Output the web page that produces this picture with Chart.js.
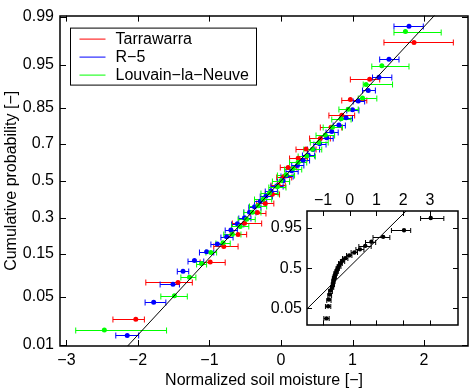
<!DOCTYPE html>
<html>
<head>
<meta charset="utf-8">
<script src="https://cdn.jsdelivr.net/npm/chart.js@4.4.1/dist/chart.umd.min.js"></script>
<style>
  body { margin: 0; background: #fff; }
  #wrap { position: relative; width: 473px; height: 390px; }
  #main { position: absolute; left: 0; top: 0; }
  #inset { position: absolute; left: 262px; top: 190px; }
</style>
</head>
<body>
<div id="wrap">
  <canvas id="main" width="473" height="390"></canvas>
  <canvas id="inset" width="205" height="150"></canvas>
</div>
<script>
// DATA (x = normalized soil moisture, z = normal score)

const probTicks = [0.01, 0.05, 0.15, 0.3, 0.5, 0.7, 0.85, 0.95, 0.99];
const probLabels = ['0.01', '0.05', '0.15', '0.3', '0.5', '0.7', '0.85', '0.95', '0.99'];
const xTicks = [-3, -2, -1, 0, 1, 2];

const insetProbTicks = [0.05, 0.5, 0.95];
const insetProbLabels = ['0.05', '0.5', '0.95'];
const insetXTicks = [-1, 0, 1, 2, 3];

// Tarrawarra
const tarrZ = [-1.96, -1.44, -1.15, -0.93, -0.76, -0.60, -0.45, -0.32, -0.19, -0.06, 0.06, 0.19, 0.32, 0.45, 0.60, 0.76, 0.93, 1.15, 1.44, 1.96];
const tarrX = [-2.03, -1.44, -0.99, -0.80, -0.60, -0.51, -0.33, -0.22, -0.12, -0.04, 0.04, 0.10, 0.24, 0.35, 0.55, 0.70, 0.85, 0.97, 1.24, 1.86];
const tarrLo = [0.32, 0.45, 0.14, 0.14, 0.11, 0.17, 0.10, 0.12, 0.10, 0.10, 0.10, 0.11, 0.12, 0.14, 0.15, 0.15, 0.18, 0.12, 0.27, 0.42];
const tarrHi = [0.12, 0.20, 0.21, 0.20, 0.12, 0.24, 0.12, 0.12, 0.10, 0.10, 0.11, 0.12, 0.13, 0.14, 0.14, 0.15, 0.18, 0.23, 0.14, 0.55];

// R-5
const r5Z = [-2.19, -1.72, -1.465, -1.28, -1.13, -1.006, -0.894, -0.792, -0.697, -0.609, -0.524, -0.444, -0.366, -0.29, -0.217, -0.144, -0.072, 0,
             0.072, 0.144, 0.217, 0.29, 0.366, 0.444, 0.524, 0.609, 0.697, 0.792, 0.894, 1.006, 1.13, 1.28, 1.465, 1.72, 2.19];
const r5X = [-2.15, -1.78, -1.51, -1.37, -1.21, -1.04, -0.89, -0.76, -0.70, -0.61, -0.51, -0.44, -0.37, -0.29, -0.21, -0.14, -0.06, 0.03,
             0.08, 0.15, 0.23, 0.31, 0.38, 0.45, 0.54, 0.64, 0.71, 0.81, 0.91, 1.00, 1.08, 1.22, 1.37, 1.51, 1.79];
const r5Lo = [0.16, 0.12, 0.18, 0.08, 0.09, 0.10, 0.09, 0.08, 0.08, 0.08, 0.08, 0.08, 0.08, 0.08, 0.08, 0.08, 0.08, 0.08,
              0.08, 0.08, 0.08, 0.08, 0.08, 0.08, 0.08, 0.08, 0.08, 0.08, 0.08, 0.08, 0.07, 0.08, 0.09, 0.13, 0.21];
const r5Hi = [0.16, 0.17, 0.09, 0.08, 0.13, 0.10, 0.09, 0.09, 0.09, 0.09, 0.09, 0.09, 0.09, 0.09, 0.09, 0.09, 0.09, 0.09,
              0.09, 0.09, 0.09, 0.09, 0.09, 0.09, 0.09, 0.09, 0.09, 0.09, 0.09, 0.09, 0.09, 0.10, 0.18, 0.14, 0.20];

// Louvain-la-Neuve
const llnZ = [-2.114, -1.628, -1.365, -1.172, -1.015, -0.879, -0.758, -0.647, -0.544, -0.447, -0.353, -0.263, -0.174, -0.086, 0,
              0.086, 0.174, 0.263, 0.353, 0.447, 0.544, 0.647, 0.758, 0.879, 1.015, 1.172, 1.365, 1.628, 2.114];
const llnX = [-2.47, -1.49, -1.28, -1.11, -0.98, -0.81, -0.68, -0.57, -0.48, -0.40, -0.32, -0.25, -0.16, -0.05, 0.00,
              0.07, 0.17, 0.24, 0.36, 0.44, 0.53, 0.62, 0.72, 0.84, 0.94, 1.14, 1.19, 1.41, 1.74];
const llnLo = [0.40, 0.19, 0.12, 0.07, 0.07, 0.10, 0.12, 0.12, 0.12, 0.12, 0.12, 0.12, 0.12, 0.12, 0.12,
               0.12, 0.12, 0.12, 0.12, 0.12, 0.12, 0.13, 0.13, 0.13, 0.13, 0.06, 0.04, 0.14, 0.16];
const llnHi = [0.87, 0.18, 0.09, 0.07, 0.08, 0.10, 0.12, 0.12, 0.12, 0.12, 0.12, 0.12, 0.12, 0.12, 0.12,
               0.12, 0.12, 0.12, 0.12, 0.13, 0.13, 0.13, 0.14, 0.14, 0.14, 0.20, 0.37, 0.38, 0.50];

// reference line (main)
const lineX = [-2.3, 2.3];
const lineZ = [-2.51, 2.51];

// inset
const insetZ = [-2.054, -1.555, -1.282, -1.080, -0.915, -0.772, -0.643, -0.524, -0.412, -0.305, -0.202, -0.100, 0,
                0.100, 0.202, 0.305, 0.412, 0.524, 0.643, 0.772, 0.915, 1.080, 1.282, 1.555, 2.054];
const insetX = [-0.87, -0.81, -0.78, -0.75, -0.72, -0.66, -0.63, -0.61, -0.59, -0.56, -0.53, -0.49, -0.45,
                -0.40, -0.35, -0.27, -0.17, -0.02, 0.17, 0.38, 0.58, 0.81, 1.25, 2.03, 3.03];
const insetLo = [0.10, 0.10, 0.08, 0.07, 0.07, 0.06, 0.06, 0.06, 0.06, 0.06, 0.06, 0.06, 0.06,
                 0.07, 0.07, 0.08, 0.10, 0.10, 0.12, 0.15, 0.24, 0.22, 0.38, 0.47, 0.38];
const insetHi = [0.10, 0.10, 0.08, 0.07, 0.07, 0.06, 0.06, 0.06, 0.06, 0.06, 0.06, 0.06, 0.06,
                 0.07, 0.07, 0.08, 0.10, 0.10, 0.12, 0.15, 0.22, 0.16, 0.25, 0.25, 0.49];
const insetLineX = [-1.8, 2.2];
const insetLineZ = [-1.88, 2.44];

// inverse normal CDF (Acklam) for the probability axis
function probit(p) {
    const a = [-3.969683028665376e+01, 2.209460984245205e+02, -2.759285104469687e+02, 1.383577518672690e+02, -3.066479806614716e+01, 2.506628277459239e+00];
    const b = [-5.447609879822406e+01, 1.615858368580409e+02, -1.556989798598866e+02, 6.680131188771972e+01, -1.328068155288572e+01];
    const c = [-7.784894002430293e-03, -3.223964580411365e-01, -2.400758277161838e+00, -2.549671010229528e+00, 4.374664141464968e+00, 2.938163982698783e+00];
    const d = [7.784695709041462e-03, 3.224671290700398e-01, 2.445134137142996e+00, 3.754408661907416e+00];
    const plow = 0.02425;
    let q, r;
    if (p < plow) {
        q = Math.sqrt(-2 * Math.log(p));
        return (((((c[0]*q+c[1])*q+c[2])*q+c[3])*q+c[4])*q+c[5]) / ((((d[0]*q+d[1])*q+d[2])*q+d[3])*q+1);
    }
    if (p > 1 - plow) {
        q = Math.sqrt(-2 * Math.log(1 - p));
        return -(((((c[0]*q+c[1])*q+c[2])*q+c[3])*q+c[4])*q+c[5]) / ((((d[0]*q+d[1])*q+d[2])*q+d[3])*q+1);
    }
    q = p - 0.5;
    r = q * q;
    return (((((a[0]*r+a[1])*r+a[2])*r+a[3])*r+a[4])*r+a[5])*q / (((((b[0]*r+b[1])*r+b[2])*r+b[3])*r+b[4])*r+1);
}

const minus = s => String(s).replace('-', '\u2212');
const pts = (xs, zs) => xs.map((v, i) => ({ x: v, y: zs[i] }));

const FONT = '"Liberation Sans", Arial, Helvetica, sans-serif';
Chart.defaults.font.family = FONT;
Chart.defaults.font.size = 16;
Chart.defaults.color = '#000';

// horizontal error bars with caps
const errorBars = {
    id: 'errorBars',
    beforeDatasetsDraw(chart, args, opts) {
        const { ctx, chartArea: a, scales: { x } } = chart;
        const cap = opts.cap || 3;
        ctx.save();
        ctx.beginPath();
        ctx.rect(a.left, a.top, a.right - a.left, a.bottom - a.top);
        ctx.clip();
        ctx.lineWidth = 1;
        const sets = chart.data.datasets;
        for (let i = sets.length - 1; i >= 0; i--) {
            const ds = sets[i];
            if (!ds.errLo) continue;
            const meta = chart.getDatasetMeta(i);
            ctx.strokeStyle = ds.pointBackgroundColor;
            meta.data.forEach((pt, j) => {
                const v = ds.data[j];
                const x0 = x.getPixelForValue(v.x - ds.errLo[j]);
                const x1 = x.getPixelForValue(v.x + ds.errHi[j]);
                const y = Math.round(pt.y) + 0.5;
                ctx.beginPath();
                ctx.moveTo(x0, y); ctx.lineTo(x1, y);
                ctx.moveTo(x0, y - cap); ctx.lineTo(x0, y + cap);
                ctx.moveTo(x1, y - cap); ctx.lineTo(x1, y + cap);
                ctx.stroke();
            });
        }
        ctx.restore();
    }
};

// white box, frame and inward ticks on all four sides
const frame = {
    id: 'frame',
    beforeDraw(chart) {
        const { ctx, chartArea: a } = chart;
        ctx.save();
        ctx.fillStyle = '#fff';
        ctx.fillRect(a.left, a.top, a.right - a.left, a.bottom - a.top);
        ctx.restore();
    },
    afterDraw(chart, args, opts) {
        const { ctx, chartArea: a, scales: { x, y } } = chart;
        const len = opts.tick || 5;
        ctx.save();
        ctx.strokeStyle = '#000';
        ctx.lineWidth = 1;
        ctx.beginPath();
        x.ticks.forEach(t => {
            const px = Math.round(x.getPixelForValue(t.value)) + 0.5;
            ctx.moveTo(px, a.bottom); ctx.lineTo(px, a.bottom - len);
            ctx.moveTo(px, a.top); ctx.lineTo(px, a.top + len);
        });
        y.ticks.forEach(t => {
            const py = Math.round(y.getPixelForValue(t.value)) + 0.5;
            ctx.moveTo(a.left, py); ctx.lineTo(a.left + len, py);
            ctx.moveTo(a.right, py); ctx.lineTo(a.right - len, py);
        });
        ctx.stroke();
        ctx.lineWidth = opts.border || 1.5;
        ctx.strokeRect(Math.round(a.left), Math.round(a.top), Math.round(a.right - a.left), Math.round(a.bottom - a.top));
        ctx.restore();
    }
};

// legend box in upper left of the main plot
const boxLegend = {
    id: 'boxLegend',
    afterDraw(chart, args, opts) {
        const { ctx, chartArea: a } = chart;
        const left = a.left + 10.5, top = a.top + 12.5;
        ctx.save();
        ctx.fillStyle = '#fff';
        ctx.fillRect(left, top, 186, 57);
        ctx.strokeStyle = '#000';
        ctx.lineWidth = 1;
        ctx.strokeRect(left, top, 186, 57);
        ctx.font = '16px ' + FONT;
        ctx.textBaseline = 'middle';
        opts.items.forEach((it, i) => {
            const yy = top + 11 + i * 18;
            ctx.strokeStyle = it.color;
            ctx.beginPath();
            ctx.moveTo(left + 9, yy); ctx.lineTo(left + 35, yy);
            ctx.stroke();
            ctx.fillStyle = '#000';
            ctx.fillText(it.text, left + 45, yy);
        });
        ctx.restore();
    }
};

function seriesSet(label, color, xs, zs, lo, hi, radius) {
    return {
        type: 'scatter',
        label: label,
        data: pts(xs, zs),
        errLo: lo,
        errHi: hi,
        pointRadius: radius,
        pointBackgroundColor: color,
        pointBorderWidth: 0,
        showLine: false
    };
}

function lineSet(xs, zs) {
    return {
        type: 'line',
        data: pts(xs, zs),
        borderColor: '#000',
        borderWidth: 1,
        pointRadius: 0,
        fill: false
    };
}

new Chart(document.getElementById('main'), {
    type: 'scatter',
    data: {
        datasets: [
            lineSet(lineX, lineZ),
            seriesSet('Louvain\u2212la\u2212Neuve', '#00ff00', llnX, llnZ, llnLo, llnHi, 2.5),
            seriesSet('R\u22125', '#0000ff', r5X, r5Z, r5Lo, r5Hi, 2.5),
            seriesSet('Tarrawarra', '#ff0000', tarrX, tarrZ, tarrLo, tarrHi, 2.5)
        ]
    },
    options: {
        responsive: false,
        animation: false,
        events: [],
        layout: { padding: { left: 0, top: 11, right: 5, bottom: 0 } },
        scales: {
            x: {
                type: 'linear',
                min: -3.09,
                max: 2.615,
                grid: { display: false, drawTicks: false },
                border: { display: false },
                afterBuildTicks: s => { s.ticks = xTicks.map(v => ({ value: v })); },
                afterFit: s => { s.height = 44; },
                ticks: { autoSkip: false, padding: 5, maxRotation: 0, callback: v => minus(v) },
                title: { display: true, text: 'Normalized soil moisture [\u2212]', padding: { top: 0, bottom: 0 } }
            },
            y: {
                type: 'linear',
                min: -2.34,
                max: 2.34,
                grid: { display: false, drawTicks: false },
                border: { display: false },
                afterBuildTicks: s => { s.ticks = probTicks.map(p => ({ value: probit(p) })); },
                afterFit: s => { s.width = 60; },
                ticks: { autoSkip: false, padding: 6, callback: (v, i) => probLabels[i] },
                title: { display: true, text: 'Cumulative probability [\u2212]', padding: { top: 2, bottom: 0 } }
            }
        },
        plugins: {
            legend: { display: false },
            tooltip: { enabled: false },
            errorBars: { cap: 3 },
            frame: { tick: 6, border: 1.5 },
            boxLegend: {
                items: [
                    { text: 'Tarrawarra', color: '#ff0000' },
                    { text: 'R\u22125', color: '#0000ff' },
                    { text: 'Louvain\u2212la\u2212Neuve', color: '#00ff00' }
                ]
            }
        }
    },
    plugins: [frame, errorBars, boxLegend]
});

new Chart(document.getElementById('inset'), {
    type: 'scatter',
    data: {
        datasets: [
            lineSet(insetLineX, insetLineZ),
            seriesSet('all', '#000000', insetX, insetZ, insetLo, insetHi, 2.2)
        ]
    },
    options: {
        responsive: false,
        animation: false,
        events: [],
        layout: { padding: { left: 0, top: 0, right: 9, bottom: 6 } },
        scales: {
            x: {
                type: 'linear',
                position: 'top',
                min: -1.6,
                max: 4.05,
                grid: { display: false, drawTicks: false },
                border: { display: false },
                afterBuildTicks: s => { s.ticks = insetXTicks.map(v => ({ value: v })); },
                afterFit: s => { s.height = 21; },
                ticks: { autoSkip: false, padding: 1, maxRotation: 0, callback: v => minus(v) }
            },
            y: {
                type: 'linear',
                min: -2.34,
                max: 2.34,
                grid: { display: false, drawTicks: false },
                border: { display: false },
                afterBuildTicks: s => { s.ticks = insetProbTicks.map(p => ({ value: probit(p) })); },
                afterFit: s => { s.width = 45; },
                ticks: { autoSkip: false, padding: 5, callback: (v, i) => insetProbLabels[i] }
            }
        },
        plugins: {
            legend: { display: false },
            tooltip: { enabled: false },
            errorBars: { cap: 2.5 },
            frame: { tick: 5, border: 1.5 }
        }
    },
    plugins: [frame, errorBars]
});
</script>
</body>
</html>
